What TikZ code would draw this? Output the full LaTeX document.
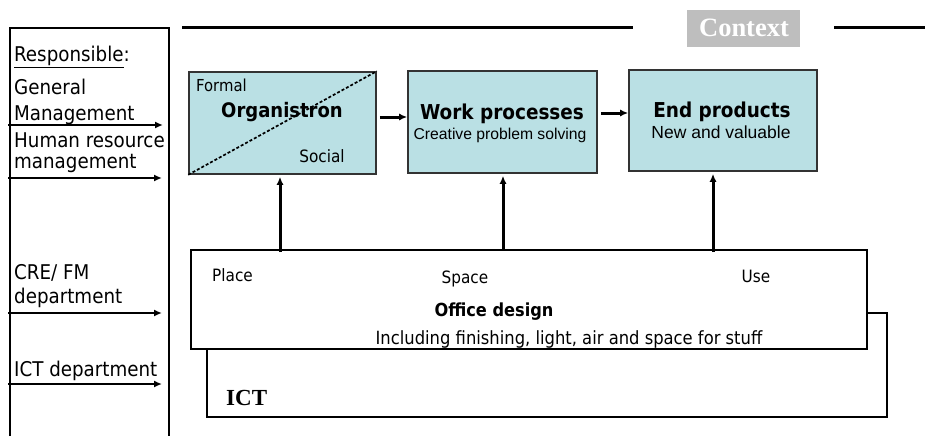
\documentclass[tikz,border=0pt]{standalone}
\usepackage{fontspec}
\setmainfont{DejaVu Sans Condensed}
\newfontfamily\arialfont{Liberation Sans}
\newfontfamily\timesfont{Liberation Serif}
\usepackage{tikz}
\usetikzlibrary{calc}
\usetikzlibrary{positioning}
\usetikzlibrary{arrows.meta}
\definecolor{boxcyan}{RGB}{186,224,228}
\definecolor{ctxgray}{RGB}{190,190,190}

\begin{document}
\begin{tikzpicture}[x=1pt, y=-1pt,
		box/.style={draw=black!80, fill=boxcyan, line width=1.6pt, inner sep=0pt},
		plainbox/.style={draw=black, fill=white, line width=2pt, inner sep=0pt},
		txt/.style={inner sep=0pt, anchor=base},
		lefttxt/.style={inner sep=0pt, anchor=base west, font=\fontsize{20.3}{22}\selectfont},
		link/.style={-{Latex[length=8pt, width=7pt]}, line width=3pt},
		inlink/.style={-{Latex[length=8pt, width=7pt]}, line width=2.2pt}]
			\useasboundingbox (0, 0) rectangle (925, 436);
			% responsible column
			\draw[line width=1.4pt] (10, 436) -- (10, 28) -- (169, 28) -- (169, 436);
			\node[lefttxt] (resp) at (14, 62) {\underline{Responsible}:};
			\node[lefttxt] (gm1) at (14, 94) {General};
			\node[lefttxt] (gm2) at (14, 120) {Management};
			\node[lefttxt] (hr1) at (14, 147) {Human resource};
			\node[lefttxt] (hr2) at (14, 168) {management};
			\node[lefttxt] (cre1) at (14, 279) {CRE/ FM};
			\node[lefttxt] (cre2) at (14, 303) {department};
			\node[lefttxt] (ictd) at (14, 376) {ICT department};
			\coordinate (gmA) at (8, 125);
			\coordinate (gmB) at (163, 125);
			\coordinate (hrA) at (8, 178);
			\coordinate (hrB) at (162, 178);
			\coordinate (creA) at (8, 313);
			\coordinate (creB) at (162, 313);
			\coordinate (ictA) at (8, 384);
			\coordinate (ictB) at (162, 384);
			\draw[inlink] (gmA) -- (gmB);
			\draw[inlink] (hrA) -- (hrB);
			\draw[inlink] (creA) -- (creB);
			\draw[inlink] (ictA) -- (ictB);
			% context line
			\node[fill=ctxgray, minimum width=113pt, minimum height=37pt, inner sep=0pt] (ctx) at (743.5, 28.5) {};
			\node[txt, text=white, font=\timesfont\bfseries\fontsize{26.5}{28}\selectfont] (ctxtxt) at (744, 37) {Context};
			\coordinate (topA) at (182, 28);
			\coordinate (topB) at (633, 28);
			\coordinate (topC) at (834, 28);
			\coordinate (topD) at (925, 28);
			\draw[line width=3pt] (topA) -- (topB);
			\draw[line width=3pt] (topC) -- (topD);
			% top boxes
			\node[box, minimum width=187pt, minimum height=102pt] (org) at (282.5, 123) {};
			\draw[line width=1.7pt, densely dashed] (org.south west) -- (org.north east);
			\node[txt, anchor=base west, font=\fontsize{16.5}{18}\selectfont] (formal) at (196, 91) {Formal};
			\node[txt, font=\bfseries\fontsize{20}{22}\selectfont] (orgtxt) at (282, 117) {Organistron};
			\node[txt, font=\fontsize{17}{18}\selectfont] (social) at (322, 162) {Social};
			\node[box, minimum width=189pt, minimum height=102pt] (work) at (502.5, 122) {};
			\node[txt, font=\bfseries\fontsize{20.5}{22}\selectfont] (worktxt) at (502, 119) {Work processes};
			\node[txt, font=\arialfont\fontsize{15.7}{17}\selectfont] (worksub) at (500, 139) {Creative problem solving};
			\node[box, minimum width=188pt, minimum height=101pt] (end) at (723, 120.5) {};
			\node[txt, font=\bfseries\fontsize{20.5}{22}\selectfont] (endtxt) at (722, 117) {End products};
			\node[txt, font=\arialfont\fontsize{17.5}{19}\selectfont] (endsub) at (721, 138) {New and valuable};
			\draw[link] ([yshift=6pt, xshift=3pt]org.east) -- ([yshift=6pt]org.east -| work.west);
			\draw[link] ([yshift=9pt, xshift=3pt]work.east) -- ([yshift=9pt]work.east -| end.west);
			% ICT and office design
			\node[plainbox, minimum width=680pt, minimum height=104pt] (ict) at (547, 365) {};
			\node[txt, font=\timesfont\bfseries\fontsize{23}{26}\selectfont, anchor=base west] (icttxt) at (226, 405) {ICT};
			\node[plainbox, minimum width=676pt, minimum height=99pt] (office) at (529, 299.5) {};
			\node[txt, anchor=base west, font=\fontsize{17}{18}\selectfont] (place) at (212, 281) {Place};
			\node[txt, font=\fontsize{17}{18}\selectfont] (space) at (465, 283) {Space};
			\node[txt, font=\fontsize{17}{18}\selectfont] (use) at (756, 282) {Use};
			\node[txt, font=\bfseries\fontsize{18}{20}\selectfont] (offtxt) at (494, 316) {Office design};
			\node[txt, font=\fontsize{18.2}{19}\selectfont] (offsub) at (569, 344) {Including finishing, light, air and space for stuff};
			\draw[link] ([xshift=-2.5pt, yshift=-3pt]org.south |- office.north) -- ([xshift=-2.5pt, yshift=-2pt]org.south);
			\draw[link] ([xshift=0.5pt]work.south |- office.north) -- ([xshift=0.5pt, yshift=-2pt]work.south);
			\draw[link] ([xshift=-10pt, yshift=-3pt]end.south |- office.north) -- ([xshift=-10pt, yshift=-2pt]end.south);
		\end{tikzpicture}
\end{document}
